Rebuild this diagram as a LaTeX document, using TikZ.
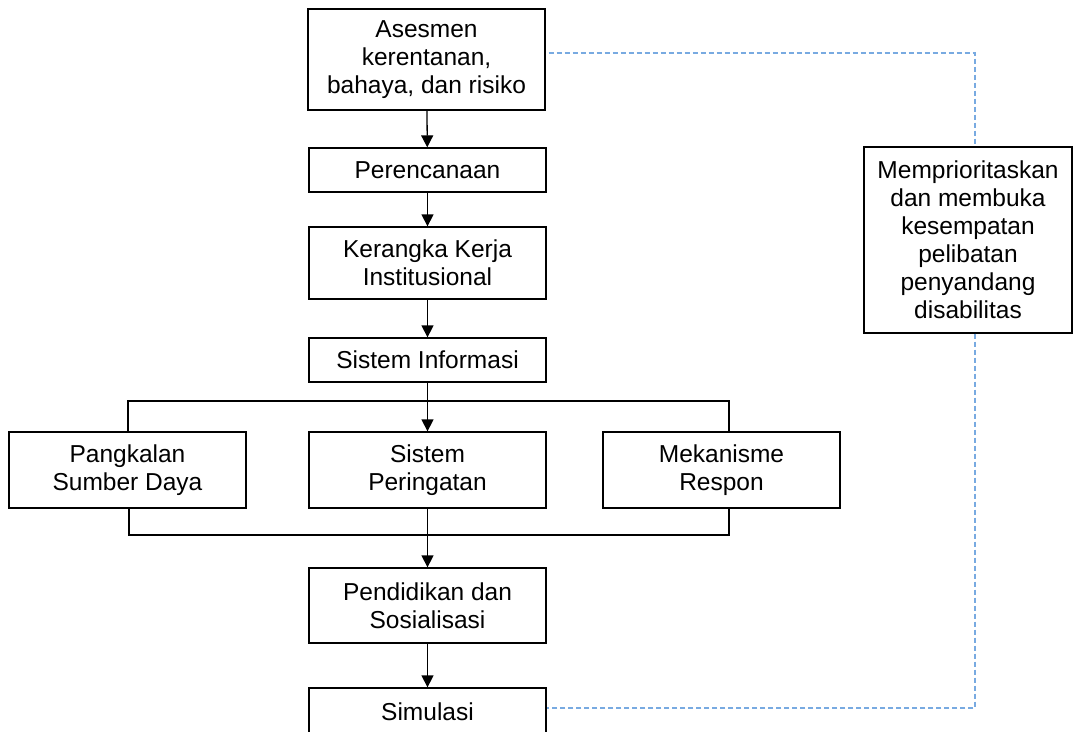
\documentclass[tikz,border=0pt]{standalone}
\usepackage{fontspec}
\setmainfont{Liberation Sans}
\usepackage{xcolor}
\usetikzlibrary{arrows.meta,positioning}
\definecolor{linkblue}{RGB}{120,170,225}

\begin{document}
\begin{tikzpicture}[
  x=1pt, y=-1pt,
  font=\fontsize{24.5}{28}\selectfont,
  box/.style={draw, line width=1.3pt, minimum width=237pt, align=center, inner sep=0pt},
  arr/.style={line width=1.3pt, -{Triangle[length=12pt,width=12pt]}},
  branchline/.style={line width=1.3pt},
  dlink/.style={draw=linkblue, line width=1.4pt, dash pattern=on 5pt off 3pt}
]
\useasboundingbox (0,0) rectangle (1073,731);
\clip (0,0) rectangle (1073,731);
% main column
\node[box, minimum height=101pt] (asesmen) at (426.5,59.5) {Asesmen\\kerentanan,\\bahaya, dan risiko};
\node[box, minimum height=44pt] (rencana) at (427.5,170) {Perencanaan};
\node[box, minimum height=72pt] (kerangka) at (427.5,263) {Kerangka Kerja\\Institusional};
\node[box, minimum height=44pt] (sisinfo) at (427.5,360) {Sistem Informasi};
\node[box, minimum height=76pt] (pangkalan) at (127.5,470) {Pangkalan\\Sumber Daya};
\node[box, minimum height=76pt] (peringatan) at (427.5,470) {Sistem\\Peringatan};
\node[box, minimum height=76pt] (mekanisme) at (721.5,470) {Mekanisme\\Respon};
\node[box, minimum height=75pt] (pendidikan) at (427.5,605.5) {Pendidikan dan\\Sosialisasi};
\node[box, minimum height=52pt] (simulasi) at (427.5,714) {\raisebox{4pt}{Simulasi}};
% side box
\node[box, minimum width=208pt, minimum height=186pt] (prioritas) at (968,240)
  {Memprioritaskan\\dan membuka\\kesempatan\\pelibatan\\penyandang\\disabilitas};

\draw[arr] (asesmen) -- (rencana);
\draw[arr] (rencana) -- (kerangka);
\draw[arr] (kerangka) -- (sisinfo);
\draw[arr] (sisinfo) -- (peringatan);
\draw[arr] (peringatan) -- (pendidikan);
\draw[arr] (pendidikan) -- (simulasi);

% branch and merge
\coordinate (bl) at (128,401);
\coordinate (br) at (729,401);
\coordinate (ml) at (129,535);
\coordinate (mr) at (729,535);
\draw[branchline] (pangkalan.north -| bl) -- (bl) -- (br) -- (mekanisme.north -| br);
\draw[branchline] (pangkalan.south -| ml) -- (ml) -- (mr) -- (mekanisme.south -| mr);

% dashed links
\coordinate (dtop) at (975,53);
\coordinate (dbot) at (975,708);
\draw[dlink] (asesmen.east |- dtop) ++(3,0) -- (dtop) -- (prioritas.north -| dtop);
\draw[dlink] (prioritas.south -| dbot) -- (dbot) -- (simulasi.east |- dbot);
\end{tikzpicture}
\end{document}
